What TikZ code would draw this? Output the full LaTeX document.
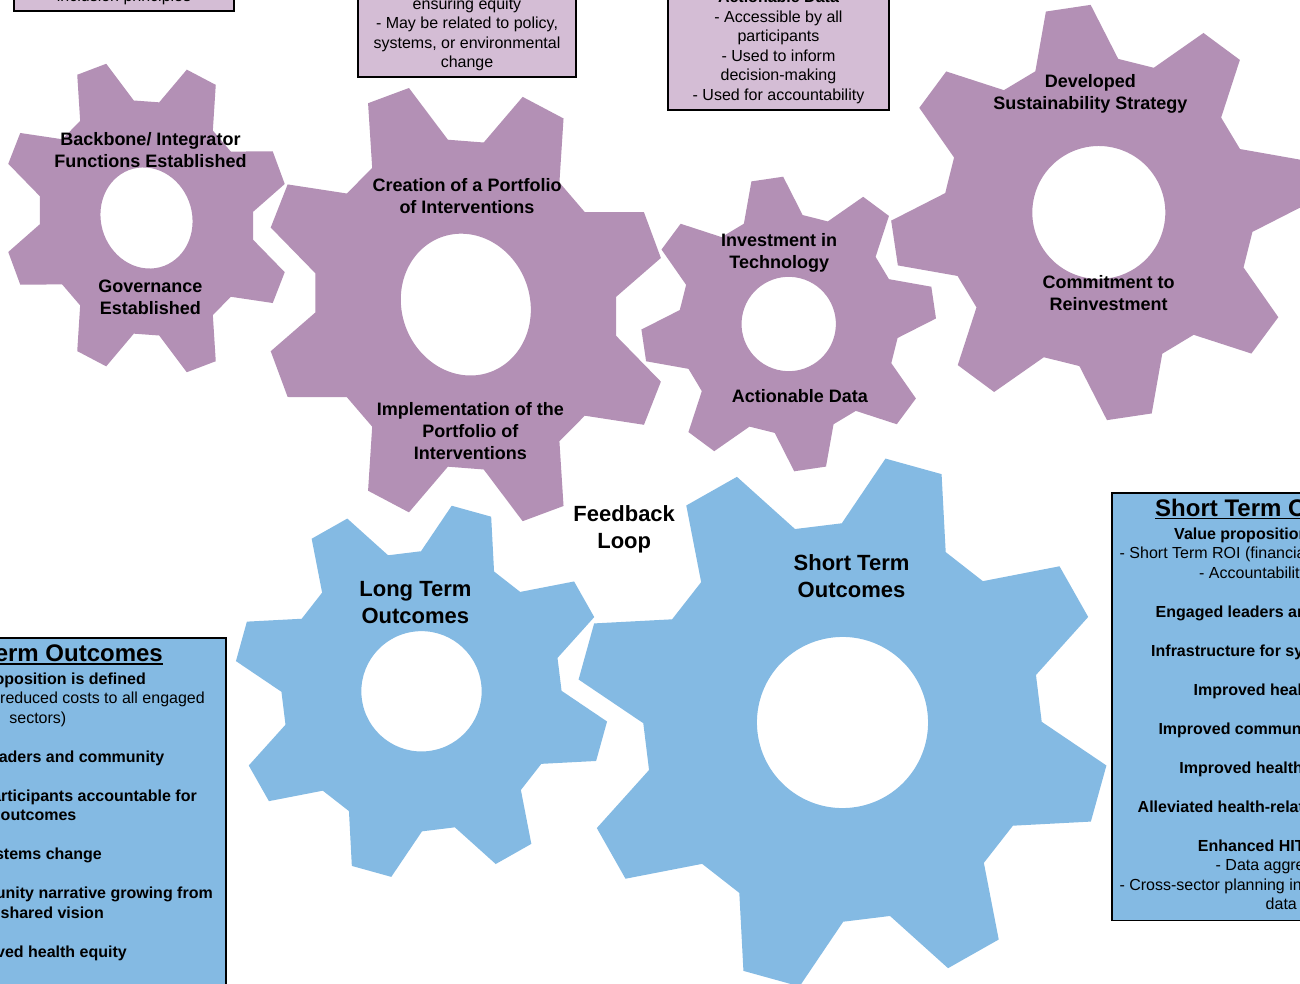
\documentclass[tikz,border=0pt]{standalone}
\usepackage{fontspec}
\setmainfont{Liberation Sans}
\definecolor{gearpurple}{RGB}{179,144,181}
\definecolor{boxpurple}{RGB}{212,189,213}
\definecolor{gearblue}{RGB}{132,186,227}
\newcommand\ulinetext[1]{\setbox0=\hbox{#1}\rlap{\rule[-3.4pt]{\wd0}{1.8pt}}\box0}
\tikzset{
  gear/.pic={
    \fill[#1, even odd rule] (6.8:0.745)
      \foreach \k in {0,...,7}{
        -- ({45*\k+6.8}:0.745) -- ({45*\k+16.25}:1) -- ({45*\k+28.75}:1) -- ({45*\k+38.2}:0.745)
      } -- cycle
      (0,0) circle[radius=0.32];
  },
  geartext/.style={font=\fontsize{18}{22}\selectfont\bfseries, align=center, inner sep=0pt},
  bigtext/.style={font=\fontsize{22}{27}\selectfont\bfseries, align=center, inner sep=0pt},
  notebox/.style={draw=black, line width=1.8pt, fill=boxpurple, inner sep=0pt},
  outbox/.style={draw=black, line width=1.8pt, fill=gearblue, inner sep=0pt},
  boxtext/.style={font=\fontsize{16}{19.5}\selectfont, align=center, inner sep=0pt},
  linereg/.style={font=\fontsize{16}{19.5}\selectfont, inner sep=0pt},
  linebold/.style={font=\fontsize{16}{19.5}\selectfont\bfseries, inner sep=0pt},
  boxtitle/.style={font=\fontsize{24}{28}\selectfont\bfseries, inner sep=0pt},
}
\begin{document}
\begin{tikzpicture}[x=1pt, y=-1pt]
\useasboundingbox (0,0) rectangle (1300,984);
\clip (0,0) rectangle (1300,984);
\fill[white] (0,0) rectangle (1300,984);

% top note boxes (cut by the top edge)
\node[notebox, minimum width=220pt, minimum height=100pt, anchor=south] (b1) at (124,12) {};
\node[linereg, anchor=base] (b1t) at (124,1.5) {inclusion principles};
\node[notebox, minimum width=218pt, minimum height=130pt, anchor=south] (b2) at (467,78) {};
\node[boxtext] (b2t) at (467,34.5) {ensuring equity\\- May be related to policy,\\systems, or environmental\\change};
\node[notebox, minimum width=221pt, minimum height=160pt, anchor=south] (b3) at (778.5,111) {};
\node[boxtext] (b3t) at (778.5,47.5) {\textbf{Actionable Data}\\- Accessible by all\\participants\\- Used to inform\\decision-making\\- Used for accountability};

% gears
\pic[yslant=-0.073, xscale=144, yscale=157.6] (gA) at (146.5,218) {gear=gearpurple};
\pic[yslant=-0.078, xscale=203.2, yscale=221] (gB) at (465.8,304.6) {gear=gearpurple};
\pic[rotate=-14.1, scale=147.4] (gC) at (788.7,324) {gear=gearpurple};
\pic[rotate=-14, scale=207.8] (gD) at (1098.8,212.5) {gear=gearpurple};
\pic[rotate=7, scale=188] (gE) at (421.5,691.3) {gear=gearblue};
\pic[rotate=7, scale=267.4] (gF) at (842.5,722.5) {gear=gearblue};

% gear labels
\node[geartext] (tA1) at (150.5,150.2) {Backbone/ Integrator\\Functions Established};
\node[geartext] (tA2) at (150.3,297) {Governance\\Established};
\node[geartext] (tB1) at (467,196.5) {Creation of a Portfolio\\of Interventions};
\node[geartext] (tB2) at (470.3,431) {Implementation of the\\Portfolio of\\Interventions};
\node[geartext] (tC1) at (779.2,252.6) {Investment in\\Technology};
\node[geartext] (tC2) at (799.8,395.8) {Actionable Data};
\node[geartext] (tD1) at (1090.3,94.2) {Developed\\Sustainability Strategy};
\node[geartext] (tD2) at (1108.7,293.4) {Commitment to\\Reinvestment};
\node[bigtext] (fb) at (624.2,529.3) {Feedback\\Loop};
\node[bigtext] (tE) at (415.4,602.7) {Long Term\\Outcomes};
\node[bigtext] (tF) at (851.5,576.5) {Short Term\\Outcomes};

% long term outcomes box (cut by the left and bottom edges)
\node[outbox, minimum width=376pt, minimum height=420pt, anchor=north east] (lbox) at (227,637) {};
\node[boxtitle, anchor=base east] (lt) at (163,661.5) {\ulinetext{Long Term Outcomes}};
\node[linebold, anchor=base east] (l1) at (146,684.3) {Value proposition is defined};
\node[linereg, anchor=base east] (l2) at (205,703.8) {- Long Term ROI (reduced costs to all engaged};
\node[linereg, anchor=base east] (l3) at (66.5,723.3) {sectors)};
\node[linebold, anchor=base east] (l4) at (164.4,762.3) {Engaged leaders and community};
\node[linebold, anchor=base east] (l5) at (197,801.3) {Cross-sector participants accountable for};
\node[linebold, anchor=base east] (l6) at (76.5,820.8) {outcomes};
\node[linebold, anchor=base east] (l7) at (102,859.8) {Systems change};
\node[linebold, anchor=base east] (l8) at (213,898.8) {Collective community narrative growing from};
\node[linebold, anchor=base east] (l9) at (104,918.3) {the shared vision};
\node[linebold, anchor=base east] (l10) at (127,957.3) {Improved health equity};

% short term outcomes box (cut by the right edge)
\node[outbox, minimum width=340pt, minimum height=427.5pt, anchor=north west] (rbox) at (1111,492) {};
\node[boxtitle, anchor=base west] (rt) at (1155,516) {\ulinetext{Short Term Outcomes}};
\node[linebold, anchor=base west] (r1) at (1174,539.3) {Value proposition is defined};
\node[linereg, anchor=base west] (r2) at (1119.5,558.8) {- Short Term ROI (financial and non-financial)};
\node[linereg, anchor=base west] (r3) at (1199,578.3) {- Accountability metrics};
\node[linebold, anchor=base west] (r4) at (1155.5,617.3) {Engaged leaders and community};
\node[linebold, anchor=base west] (r5) at (1151,656.3) {Infrastructure for systems change};
\node[linebold, anchor=base west] (r6) at (1193.4,695.3) {Improved health equity};
\node[linebold, anchor=base west] (r7) at (1158.3,734.3) {Improved community conditions};
\node[linebold, anchor=base west] (r8) at (1179.2,773.3) {Improved health outcomes};
\node[linebold, anchor=base west] (r9) at (1137.5,812.3) {Alleviated health-related social needs};
\node[linebold, anchor=base west] (r10) at (1197.7,851.3) {Enhanced HIT capacity};
\node[linereg, anchor=base west] (r11) at (1215.5,870.8) {- Data aggregation};
\node[linereg, anchor=base west] (r12) at (1119.3,890.3) {- Cross-sector planning informed by population};
\node[linereg, anchor=base west] (r13) at (1265.5,909.8) {data};
\end{tikzpicture}
\end{document}
